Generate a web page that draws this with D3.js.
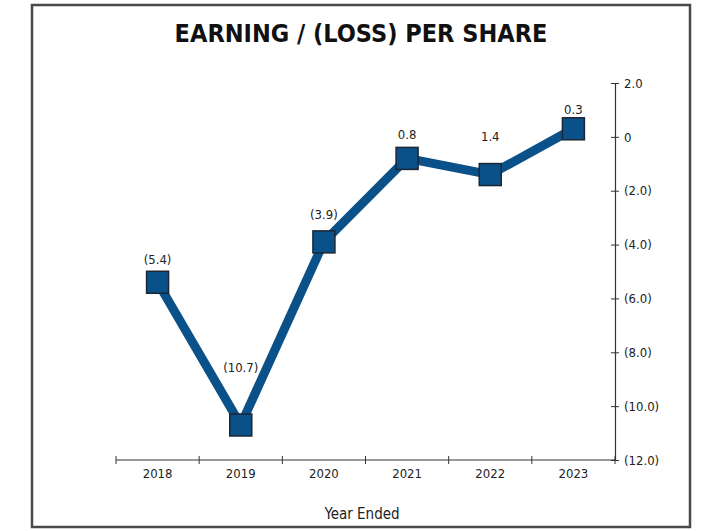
<!DOCTYPE html>
<html>
<head>
<meta charset="utf-8">
<script src="https://cdn.jsdelivr.net/npm/d3@7"></script>
<style>
  body { margin: 0; background: #fff; }
  svg { display: block; }
  text { font-family: "Liberation Sans Narrow", "DejaVu Sans Condensed", "Roboto", sans-serif; fill: #222; }
</style>
</head>
<body>
<div id="root"></div>
<script>
// data
var years = ['2018', '2019', '2020', '2021', '2022', '2023'];
var eps = [-5.4, -10.7, -3.9, -0.8, -1.4, 0.3];
var pointLabels = ['(5.4)', '(10.7)', '(3.9)', '0.8', '1.4', '0.3'];
var yTicks = [2, 0, -2, -4, -6, -8, -10, -12];
var yTickLabels = ['2.0', '0', '(2.0)', '(4.0)', '(6.0)', '(8.0)', '(10.0)', '(12.0)'];

var width = 706;
var height = 531;

var svg = d3.select('#root')
  .append('svg')
    .attr('width', width)
    .attr('height', height);

// frame
svg.append('rect')
  .attr('x', 32)
  .attr('y', 5)
  .attr('width', 658)
  .attr('height', 522)
  .attr('fill', 'none')
  .attr('stroke', '#4a4a4a')
  .attr('stroke-width', 2.5);

svg.append('text')
  .attr('x', 361)
  .attr('y', 42)
  .attr('text-anchor', 'middle')
  .style('font-size', '25px')
  .style('font-weight', 'bold')
  .style('fill', '#111')
  .text('EARNING / (LOSS) PER SHARE');

var x = d3.scaleBand()
  .domain(years)
  .range([116, 615]);

var y = d3.scaleLinear()
  .domain([-12, 2])
  .range([460, 83]);

// x axis: line with ticks at band edges
var xAxis = svg.append('g');
xAxis.append('line')
  .attr('x1', 116).attr('x2', 615)
  .attr('y1', y(-12)).attr('y2', y(-12))
  .attr('stroke', '#333').attr('stroke-width', 1.2);

var edges = years.map(function(d) { return x(d); }).concat([x(years[years.length - 1]) + x.bandwidth()]);
xAxis.selectAll('line.tick')
  .data(edges)
  .enter()
  .append('line')
    .attr('class', 'tick')
    .attr('x1', function(d) { return d; })
    .attr('x2', function(d) { return d; })
    .attr('y1', y(-12) - 4)
    .attr('y2', y(-12) + 4)
    .attr('stroke', '#333');

xAxis.selectAll('text')
  .data(years)
  .enter()
  .append('text')
    .attr('x', function(d) { return x(d) + x.bandwidth() / 2; })
    .attr('y', 478)
    .attr('text-anchor', 'middle')
    .style('font-size', '13px')
    .text(function(d) { return d; });

svg.append('text')
  .attr('x', 362)
  .attr('y', 519)
  .attr('text-anchor', 'middle')
  .style('font-size', '15px')
  .text('Year Ended');

// y axis on the right
var yAxis = svg.append('g')
  .attr('transform', 'translate(615,0)')
  .call(d3.axisRight(y)
    .tickValues(yTicks)
    .tickSize(4)
    .tickFormat(function(d, i) { return yTickLabels[i]; }));

yAxis.select('.domain').attr('stroke', '#333').attr('stroke-width', 1.2);
yAxis.selectAll('.tick line').attr('x1', -4).attr('stroke', '#333');
yAxis.selectAll('.tick text')
  .attr('x', 9)
  .style('font-size', '13px')
  .style('font-family', '"Liberation Sans Narrow", "DejaVu Sans Condensed", sans-serif')
  .attr('fill', '#222');

// line
var cx = function(d, i) { return x(years[i]) + x.bandwidth() / 2; };

svg.append('path')
  .datum(eps)
  .attr('fill', 'none')
  .attr('stroke', '#0b5189')
  .attr('stroke-width', 9)
  .attr('d', d3.line()
    .x(cx)
    .y(function(d) { return y(d); }));

var sq = 22;
svg.selectAll('rect.pt')
  .data(eps)
  .enter()
  .append('rect')
    .attr('class', 'pt')
    .attr('x', function(d, i) { return cx(d, i) - sq / 2; })
    .attr('y', function(d) { return y(d) - sq / 2; })
    .attr('width', sq)
    .attr('height', sq)
    .attr('fill', '#0b5189')
    .attr('stroke', '#1d2633')
    .attr('stroke-width', 1.5);

// value labels, lifted above each point
var labelLift = [18, 53, 23, 19, 34, 15];
svg.selectAll('text.val')
  .data(eps)
  .enter()
  .append('text')
    .attr('class', 'val')
    .attr('x', cx)
    .attr('y', function(d, i) { return y(d) - labelLift[i]; })
    .attr('text-anchor', 'middle')
    .style('font-size', '13px')
    .text(function(d, i) { return pointLabels[i]; });
</script>
</body>
</html>
